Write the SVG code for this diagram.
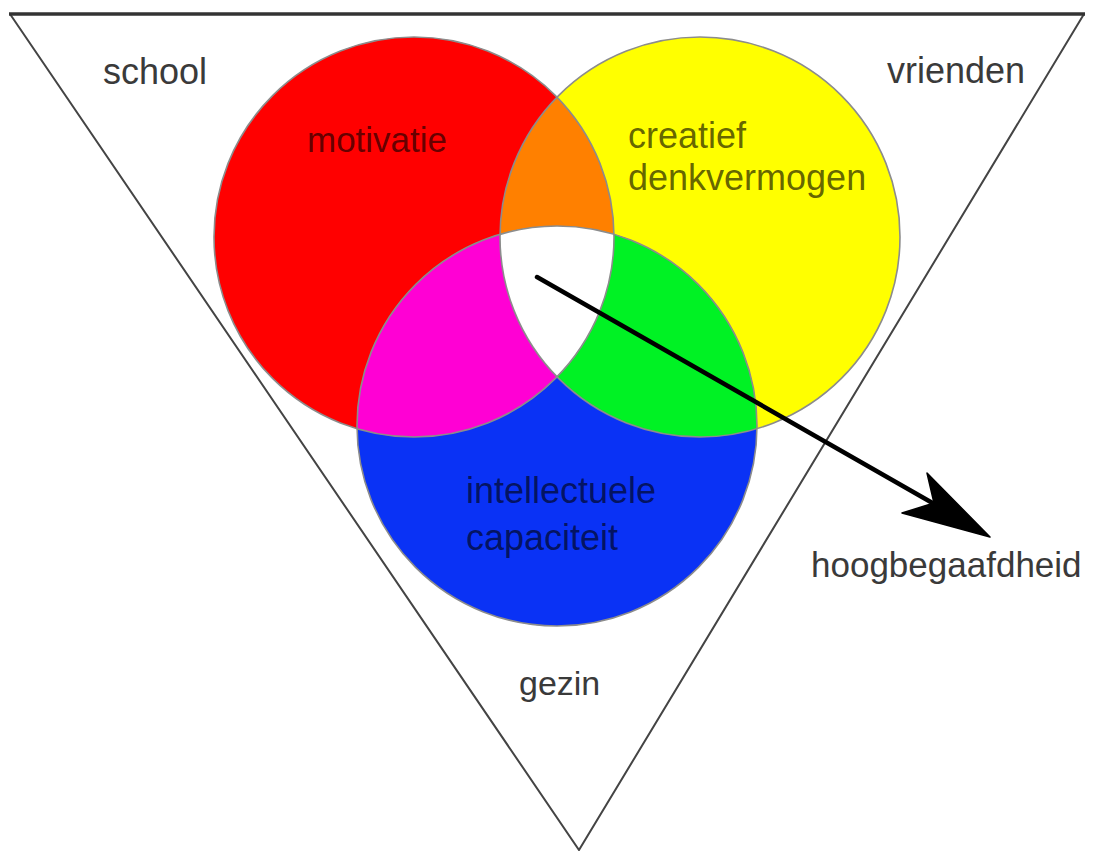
<svg xmlns="http://www.w3.org/2000/svg" width="1100" height="851" viewBox="0 0 1100 851">
<style>
.lbl{font-family:"Liberation Sans",Arial,sans-serif;font-size:36px;fill:#3a3a3a}
.in{font-family:"Liberation Sans",Arial,sans-serif;font-size:36px;fill:#000;fill-opacity:0.62}
.ring{fill:none;stroke:#8c8c8c;stroke-width:1.6}
</style>
<defs>
<clipPath id="cR"><circle cx="414" cy="237" r="200"/></clipPath>
<clipPath id="cY"><circle cx="700" cy="237" r="200"/></clipPath>
</defs>
<rect width="1100" height="851" fill="#fff"/>
<g id="frame">
<polyline points="10,14 579,850 1084,14" fill="none" stroke="#444" stroke-width="2"/>
<line x1="9" y1="14" x2="1085" y2="14" stroke="#333" stroke-width="3.5"/>
</g>
<g id="venn">
<circle cx="414" cy="237" r="200" fill="#ff0000"/>
<circle cx="700" cy="237" r="200" fill="#ffff00"/>
<circle cx="557" cy="426" r="200" fill="#0a32f5"/>
<circle cx="700" cy="237" r="200" fill="#ff8000" clip-path="url(#cR)"/>
<circle cx="557" cy="426" r="200" fill="#ff00d4" clip-path="url(#cR)"/>
<circle cx="557" cy="426" r="200" fill="#00f224" clip-path="url(#cY)"/>
<g clip-path="url(#cR)"><circle cx="557" cy="426" r="200" fill="#ffffff" clip-path="url(#cY)"/></g>
<circle class="ring" cx="414" cy="237" r="200"/>
<circle class="ring" cx="700" cy="237" r="200"/>
<circle class="ring" cx="557" cy="426" r="200"/>
</g>
<g id="school"><text class="lbl" x="103" y="84">school</text></g>
<g id="vrienden"><text class="lbl" x="887" y="83">vrienden</text></g>
<g id="gezin"><text class="lbl" x="519" y="695" style="font-size:34px">gezin</text></g>
<g id="motivatie"><text class="in" x="307" y="152" style="font-size:35px">motivatie</text></g>
<g id="creatief"><text class="in" x="628" y="148">creatief</text><text class="in" x="628" y="190">denkvermogen</text></g>
<g id="intellectuele"><text class="in" x="466" y="503">intellectuele</text><text class="in" x="466" y="550">capaciteit</text></g>
<g id="hoogbegaafdheid"><text class="lbl" x="811" y="577" style="font-size:35px">hoogbegaafdheid</text></g>
<g id="connectors">
<line x1="537" y1="277" x2="936" y2="505" stroke="#000" stroke-width="4.5" stroke-linecap="round"/>
<polygon points="990,537 927,473 934,503 902,513" fill="#000" stroke="#000" stroke-width="1.5" stroke-linejoin="round"/>
</g>
</svg>
